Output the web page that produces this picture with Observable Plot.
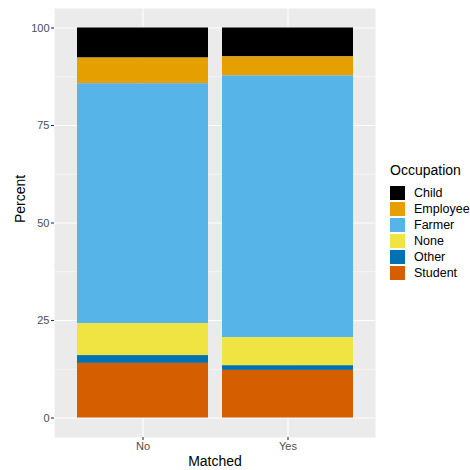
<!DOCTYPE html>
<html>
<head>
<meta charset="utf-8">
<script src="https://cdn.jsdelivr.net/npm/d3@7"></script>
<script src="https://cdn.jsdelivr.net/npm/@observablehq/plot@0.6"></script>
<style>
  html, body { margin: 0; padding: 0; background: #fff; }
  #wrap { position: relative; width: 470px; height: 470px; font-family: "Liberation Sans", Arial, sans-serif; }
  #legend { position: absolute; left: 390px; top: 162px; font-family: "Liberation Sans", Arial, sans-serif; }
  #legend .title { font-size: 14px; color: #000; margin-bottom: 7px; }
  #legend .row { display: flex; align-items: center; height: 16px; }
  #legend .key { width: 15px; height: 14.4px; margin-right: 9px; }
  #legend .lab { font-size: 12.5px; color: #000; }
</style>
</head>
<body>
<div id="wrap"><div id="legend"></div></div>
<script>
const matched = ["No", "Yes"];
const occupations = ["Child", "Employee", "Farmer", "None", "Other", "Student"];
const colors = ["#000000", "#E69F00", "#56B4E9", "#F0E442", "#0072B2", "#D55E00"];
const stackOrder = ["Student", "Other", "None", "Farmer", "Employee", "Child"];
const percentNo  = [7.7, 6.6, 61.5, 8.2, 2.0, 14.0];
const percentYes = [7.4, 4.9, 67.1, 7.2, 1.2, 12.2];
const yTicks = [0, 25, 50, 75, 100];
const yMinor = [12.5, 37.5, 62.5, 87.5];

const data = [];
occupations.forEach((o, i) => {
  data.push({Matched: "No", Occupation: o, Percent: percentNo[i]});
  data.push({Matched: "Yes", Occupation: o, Percent: percentYes[i]});
});

const chart = Plot.plot({
  width: 470,
  height: 470,
  marginLeft: 54,
  marginRight: 95,
  marginTop: 8,
  marginBottom: 33,
  style: {fontFamily: "Liberation Sans, Arial, sans-serif", background: "transparent"},
  x: {domain: matched, paddingInner: 0.1, paddingOuter: 0.15, label: null},
  y: {domain: [-5, 105], label: null},
  color: {domain: occupations, range: colors},
  marks: [
    Plot.frame({fill: "#EBEBEB", stroke: null}),
    Plot.ruleY(yMinor, {stroke: "#fff", strokeWidth: 0.55}),
    Plot.ruleY(yTicks, {stroke: "#fff", strokeWidth: 1.1}),
    Plot.ruleX(matched, {stroke: "#fff", strokeWidth: 1.1}),
    Plot.barY(data, Plot.stackY({
      x: "Matched", y: "Percent", fill: "Occupation",
      order: stackOrder
    })),
    Plot.axisY({ticks: yTicks, tickSize: 3, tickPadding: 2, stroke: "#333", strokeWidth: 1.1, fill: "#4D4D4D", fontSize: 11, label: null}),
    Plot.axisX({tickSize: 3, tickPadding: 2, stroke: "#333", strokeWidth: 1.1, fill: "#4D4D4D", fontSize: 11, label: null}),
    Plot.text(["Percent"], {frameAnchor: "left", dx: -34, rotate: -90, fontSize: 14, fill: "#000"}),
    Plot.text(["Matched"], {frameAnchor: "bottom", dy: 28, fontSize: 14, fill: "#000"})
  ]
});

const wrap = document.getElementById("wrap");
wrap.insertBefore(chart, wrap.firstChild);

const legend = document.getElementById("legend");
legend.innerHTML = `<div class="title">Occupation</div>` +
  occupations.map((o, i) => `<div class="row"><div class="key" style="background:${colors[i]}"></div><div class="lab">${o}</div></div>`).join("");
</script>
</body>
</html>
